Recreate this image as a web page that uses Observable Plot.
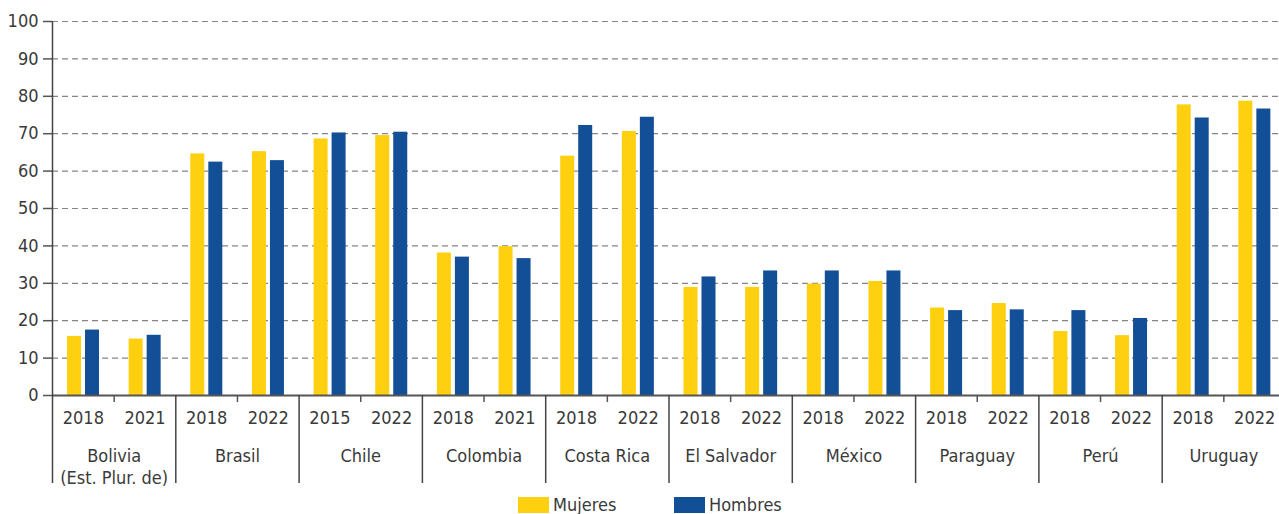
<!DOCTYPE html>
<html><head><meta charset="utf-8">
<script src="https://cdn.jsdelivr.net/npm/d3@7"></script>
<script src="https://cdn.jsdelivr.net/npm/@observablehq/plot@0.6"></script>
<style>
html,body{margin:0;padding:0;background:#fff;overflow:hidden;}
body{font-family:"Liberation Sans Narrow","Arial Narrow","DejaVu Sans Condensed",sans-serif;color:#3a3a3a;width:1279px;height:514px;}
#legend{position:relative;height:22px;margin-top:7px;}
.item{position:absolute;top:0;display:flex;align-items:center;height:16px;font-size:18px;line-height:16px;}
.sw{width:31px;height:16px;margin-right:4px;}
</style></head><body>
<div id="chart"></div>
<div id="legend"></div>
<script>
const countries = ["Bolivia\n(Est. Plur. de)","Brasil","Chile","Colombia","Costa Rica","El Salvador","México","Paraguay","Perú","Uruguay"];
const years = [["2018","2021"],["2018","2022"],["2015","2022"],["2018","2021"],["2018","2022"],["2018","2022"],["2018","2022"],["2018","2022"],["2018","2022"],["2018","2022"]];
const mujeres = [15.8,15.1, 64.6,65.2, 68.6,69.5, 38.1,39.8, 64.0,70.6, 28.9,28.9, 29.8,30.5, 23.4,24.6, 17.1,16.0, 77.7,78.7];
const hombres = [17.5,16.1, 62.4,62.8, 70.2,70.4, 37.0,36.6, 72.2,74.4, 31.7,33.3, 33.3,33.3, 22.7,22.9, 22.7,20.6, 74.2,76.6];
const yTicks = [0,10,20,30,40,50,60,70,80,90,100];
const seriesNames = ["Mujeres","Hombres"];
const colors = ["#FFD010","#124F96"];

const slots = [];
countries.forEach((c, ci) => years[ci].forEach((yr, si) => {
  const k = slots.length;
  slots.push({key: ci + "-" + si, ci, si, year: yr, country: c, m: mujeres[k], h: hombres[k]});
}));

const W = 1279, H = 490, mL = 52, mR = -6, mT = 21, mB = 95;
const bw = (W - mL - mR) / slots.length;
const frameH = H - mT - mB;
const font = '"Liberation Sans Narrow","Arial Narrow","DejaVu Sans Condensed",sans-serif';
const fs = 18;

const chart = Plot.plot({
  width: W, height: H,
  marginLeft: mL, marginRight: mR, marginTop: mT, marginBottom: mB,
  style: {fontFamily: font, fontSize: fs + "px", color: "#3a3a3a", background: "#fff", overflow: "visible"},
  x: {type: "band", domain: slots.map(d => d.key), padding: 0, round: false, axis: null},
  y: {domain: [0, 100], axis: null},
  marks: [
    Plot.ruleY(yTicks.filter(d => d > 0), {y: d => d, stroke: "#858585", strokeWidth: 1.2, strokeDasharray: "6,4"}),
    Plot.barY(slots, {x: "key", y: "m", fill: colors[0], insetLeft: 15, insetRight: bw - 29}),
    Plot.barY(slots, {x: "key", y: "h", fill: colors[1], insetLeft: 33, insetRight: bw - 47}),
    Plot.axisY({ticks: yTicks, tickSize: 9, tickPadding: 5, fontSize: fs, stroke: "#555", strokeWidth: 1.5, tickFormat: d => String(d)}),
    Plot.ruleY([0], {stroke: "#555", strokeWidth: 2}),
    // left axis line
    Plot.ruleX(slots.filter(d => d.ci === 0 && d.si === 0), {x: "key", dx: -bw / 2, stroke: "#444", strokeWidth: 1.5, insetBottom: -88}),
    // country separators
    Plot.ruleX(slots.filter(d => d.ci > 0 && d.si === 0), {x: "key", dx: -bw / 2, stroke: "#444", strokeWidth: 1.5, insetTop: frameH, insetBottom: -88}),
    // minor ticks between years
    Plot.ruleX(slots.filter(d => d.si === 1), {x: "key", dx: -bw / 2, stroke: "#555", strokeWidth: 1.5, insetTop: frameH, insetBottom: -7}),
    Plot.text(slots, {x: "key", text: "year", frameAnchor: "bottom", dy: 23, lineAnchor: "middle", fontSize: fs, fill: "#3a3a3a"}),
    Plot.text(slots.filter(d => d.si === 0), {x: "key", dx: bw / 2, text: "country", frameAnchor: "bottom", dy: 51, lineAnchor: "top", lineHeight: 1.22, fontSize: fs, fill: "#3a3a3a"})
  ]
});
document.getElementById("chart").appendChild(chart);

const legend = document.getElementById("legend");
const lx = [518, 674];
seriesNames.forEach((n, i) => {
  const it = document.createElement("div");
  it.className = "item";
  it.style.left = lx[i] + "px";
  it.innerHTML = `<span class="sw" style="background:${colors[i]}"></span><span>${n}</span>`;
  legend.appendChild(it);
});
</script>
</body></html>
